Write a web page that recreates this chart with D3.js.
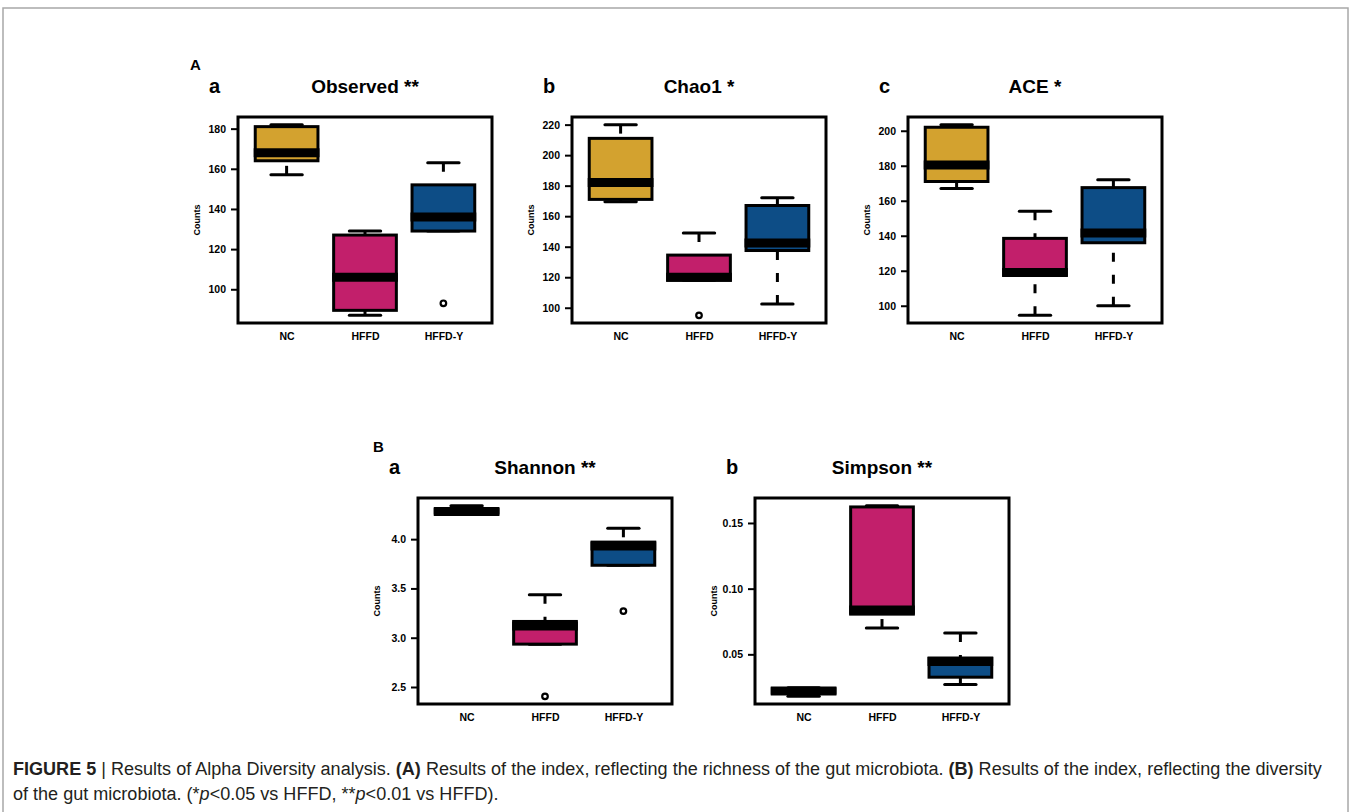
<!DOCTYPE html>
<html>
<head>
<meta charset="utf-8">
<script src="https://cdn.jsdelivr.net/npm/d3@7"></script>
<style>
  body { margin: 0; background: #fff; }
  svg { display: block; font-family: "Liberation Sans", Arial, sans-serif; }
</style>
</head>
<body>
<svg id="chart" width="1351" height="812"></svg>
<script>
// groups, same for every panel
var groups = ["NC", "HFFD", "HFFD-Y"];

// box stats per group: [min, q1, median, q3, max]
var observedStats = [[157, 164, 168, 181, 182], [87, 89.5, 106, 127, 129], [129, 129, 136, 152, 163]];
var observedOutliers = [[], [], [93]];
var observedTicks = [100, 120, 140, 160, 180];

var chao1Stats = [[169.5, 171, 182, 211, 220], [118, 118, 120, 134.5, 149], [102.5, 137.5, 142.5, 167, 172]];
var chao1Outliers = [[], [95], []];
var chao1Ticks = [100, 120, 140, 160, 180, 200, 220];

var aceStats = [[167, 171, 180.5, 202, 203.5], [94.5, 117.5, 119, 138.5, 154], [100, 136, 141.5, 167.5, 172]];
var aceOutliers = [[], [], []];
var aceTicks = [100, 120, 140, 160, 180, 200];

var shannonStats = [[4.26, 4.265, 4.28, 4.30, 4.34], [2.935, 2.935, 3.12, 3.165, 3.435], [3.735, 3.735, 3.93, 3.97, 4.11]];
var shannonOutliers = [[], [2.405], [3.27]];
var shannonTicks = [2.5, 3.0, 3.5, 4.0];

var simpsonStats = [[0.018, 0.0205, 0.022, 0.0238, 0.0245], [0.070, 0.0806, 0.0837, 0.1622, 0.1632], [0.027, 0.0326, 0.0446, 0.0472, 0.0663]];
var simpsonOutliers = [[], [], []];
var simpsonTicks = [0.05, 0.10, 0.15];

var fillColors = ["#d3a22f", "#c21f6b", "#0d4d86"];

var svg = d3.select("#chart");

// outer frame
svg.append("rect")
    .attr("x", 3).attr("y", 8)
    .attr("width", 1345).attr("height", 900)
    .attr("fill", "none")
    .attr("stroke", "#a8a8a8")
    .attr("stroke-width", 1.5);

var W = 254, H = 206;

var panels = [
  { letter: "a", title: "Observed **", stats: observedStats, outliers: observedOutliers, ticks: observedTicks, fmt: d3.format("d"), left: 238, top: 117 },
  { letter: "b", title: "Chao1 *", stats: chao1Stats, outliers: chao1Outliers, ticks: chao1Ticks, fmt: d3.format("d"), left: 572, top: 117 },
  { letter: "c", title: "ACE *", stats: aceStats, outliers: aceOutliers, ticks: aceTicks, fmt: d3.format("d"), left: 908, top: 117 },
  { letter: "a", title: "Shannon **", stats: shannonStats, outliers: shannonOutliers, ticks: shannonTicks, fmt: d3.format(".1f"), left: 418, top: 498 },
  { letter: "b", title: "Simpson **", stats: simpsonStats, outliers: simpsonOutliers, ticks: simpsonTicks, fmt: d3.format(".2f"), left: 755, top: 498 }
];

// section letters
svg.append("text").attr("x", 190).attr("y", 70)
    .style("font-size", "15px").style("font-weight", "bold").text("A");
svg.append("text").attr("x", 373).attr("y", 452)
    .style("font-size", "15px").style("font-weight", "bold").text("B");

panels.forEach(function (p) {
  var g = svg.append("g").attr("transform", "translate(" + p.left + "," + p.top + ")");

  // R style axis ranges: 4% extension on both sides
  var x = d3.scaleLinear().domain([0.38, 3.62]).range([0, W]);
  var all = d3.merge(p.stats).concat(d3.merge(p.outliers));
  var ext = d3.extent(all);
  var pad = (ext[1] - ext[0]) * 0.04;
  var y = d3.scaleLinear().domain([ext[0] - pad, ext[1] + pad]).range([H, 0]);

  var bw = (x(2) - x(1)) * 0.8;

  var boxes = g.selectAll("g.box")
      .data(p.stats)
      .enter().append("g")
      .attr("class", "box");

  // whiskers, drawn from the extreme towards the hinge
  boxes.append("line")
      .attr("x1", function (d, i) { return x(i + 1); })
      .attr("x2", function (d, i) { return x(i + 1); })
      .attr("y1", function (d) { return y(d[0]); })
      .attr("y2", function (d) { return y(d[1]); })
      .attr("stroke", "#000").attr("stroke-width", 3)
      .attr("stroke-dasharray", "9,13");
  boxes.append("line")
      .attr("x1", function (d, i) { return x(i + 1); })
      .attr("x2", function (d, i) { return x(i + 1); })
      .attr("y1", function (d) { return y(d[4]); })
      .attr("y2", function (d) { return y(d[3]); })
      .attr("stroke", "#000").attr("stroke-width", 3)
      .attr("stroke-dasharray", "9,13");

  // staples
  [0, 4].forEach(function (k) {
    boxes.append("line")
        .attr("x1", function (d, i) { return x(i + 1) - bw / 4; })
        .attr("x2", function (d, i) { return x(i + 1) + bw / 4; })
        .attr("y1", function (d) { return y(d[k]); })
        .attr("y2", function (d) { return y(d[k]); })
        .attr("stroke", "#000").attr("stroke-width", 3)
        .attr("stroke-linecap", "round");
  });

  // box
  boxes.append("rect")
      .attr("x", function (d, i) { return x(i + 1) - bw / 2; })
      .attr("y", function (d) { return y(d[3]); })
      .attr("width", bw)
      .attr("height", function (d) { return Math.max(y(d[1]) - y(d[3]), 0); })
      .attr("fill", function (d, i) { return fillColors[i]; })
      .attr("stroke", "#000").attr("stroke-width", 3);

  // median
  boxes.append("line")
      .attr("x1", function (d, i) { return x(i + 1) - bw / 2 - 1.5; })
      .attr("x2", function (d, i) { return x(i + 1) + bw / 2 + 1.5; })
      .attr("y1", function (d) { return y(d[2]); })
      .attr("y2", function (d) { return y(d[2]); })
      .attr("stroke", "#000").attr("stroke-width", 9);

  // outliers
  p.outliers.forEach(function (list, i) {
    g.selectAll(null)
        .data(list)
        .enter().append("circle")
        .attr("cx", x(i + 1))
        .attr("cy", function (d) { return y(d); })
        .attr("r", 2.8)
        .attr("fill", "none")
        .attr("stroke", "#000").attr("stroke-width", 2.2);
  });

  // frame
  g.append("rect")
      .attr("width", W).attr("height", H)
      .attr("fill", "none")
      .attr("stroke", "#000").attr("stroke-width", 3);

  // y axis
  var yAxis = g.append("g")
      .call(d3.axisLeft(y).tickValues(p.ticks).tickFormat(p.fmt).tickSize(7).tickPadding(5));
  yAxis.select(".domain").remove();
  yAxis.selectAll(".tick line").attr("stroke-width", 2);
  yAxis.selectAll("text")
      .style("font-size", "10.5px").style("font-weight", "bold")
      .style("font-family", "'Liberation Sans', Arial, sans-serif").attr("fill", "#000");

  // x labels
  var xAxis = g.append("g")
      .attr("transform", "translate(0," + H + ")")
      .call(d3.axisBottom(x).tickValues([1, 2, 3])
        .tickFormat(function (d) { return groups[d - 1]; })
        .tickSize(0).tickPadding(9.5));
  xAxis.select(".domain").remove();
  xAxis.selectAll("text")
      .style("font-size", "10.5px").style("font-weight", "bold")
      .style("font-family", "'Liberation Sans', Arial, sans-serif").attr("fill", "#000");

  // y label
  g.append("text")
      .attr("transform", "translate(-38," + (H / 2) + ") rotate(-90)")
      .attr("text-anchor", "middle")
      .style("font-size", "9px").style("font-weight", "bold")
      .text("Counts");

  // panel letter + title
  g.append("text")
      .attr("x", -29).attr("y", -24)
      .style("font-size", "20px").style("font-weight", "bold")
      .text(p.letter);
  g.append("text")
      .attr("x", W / 2).attr("y", -24)
      .attr("text-anchor", "middle")
      .style("font-size", "19px").style("font-weight", "bold")
      .text(p.title);
});

// caption
var cap1 = svg.append("text").attr("x", 13).attr("y", 775)
    .attr("fill", "#231f20").style("font-size", "16px");
cap1.append("tspan").style("font-weight", "bold").text("FIGURE 5");
cap1.append("tspan").text(" | Results of Alpha Diversity analysis. ");
cap1.append("tspan").style("font-weight", "bold").text("(A)");
cap1.append("tspan").text(" Results of the index, reflecting the richness of the gut microbiota. ");
cap1.append("tspan").style("font-weight", "bold").text("(B)");
cap1.append("tspan").text(" Results of the index, reflecting the diversity");

var cap2 = svg.append("text").attr("x", 13).attr("y", 800)
    .attr("fill", "#231f20").style("font-size", "16px");
cap2.append("tspan").text("of the gut microbiota. (*");
cap2.append("tspan").style("font-style", "italic").text("p");
cap2.append("tspan").text("<0.05 vs HFFD, **");
cap2.append("tspan").style("font-style", "italic").text("p");
cap2.append("tspan").text("<0.01 vs HFFD).");

// fit the first caption line to the page width
var natural = cap1.node().getComputedTextLength();
var fs = 16 * 1310 / natural;
cap1.style("font-size", fs + "px");
cap2.style("font-size", fs + "px");
</script>
</body>
</html>
